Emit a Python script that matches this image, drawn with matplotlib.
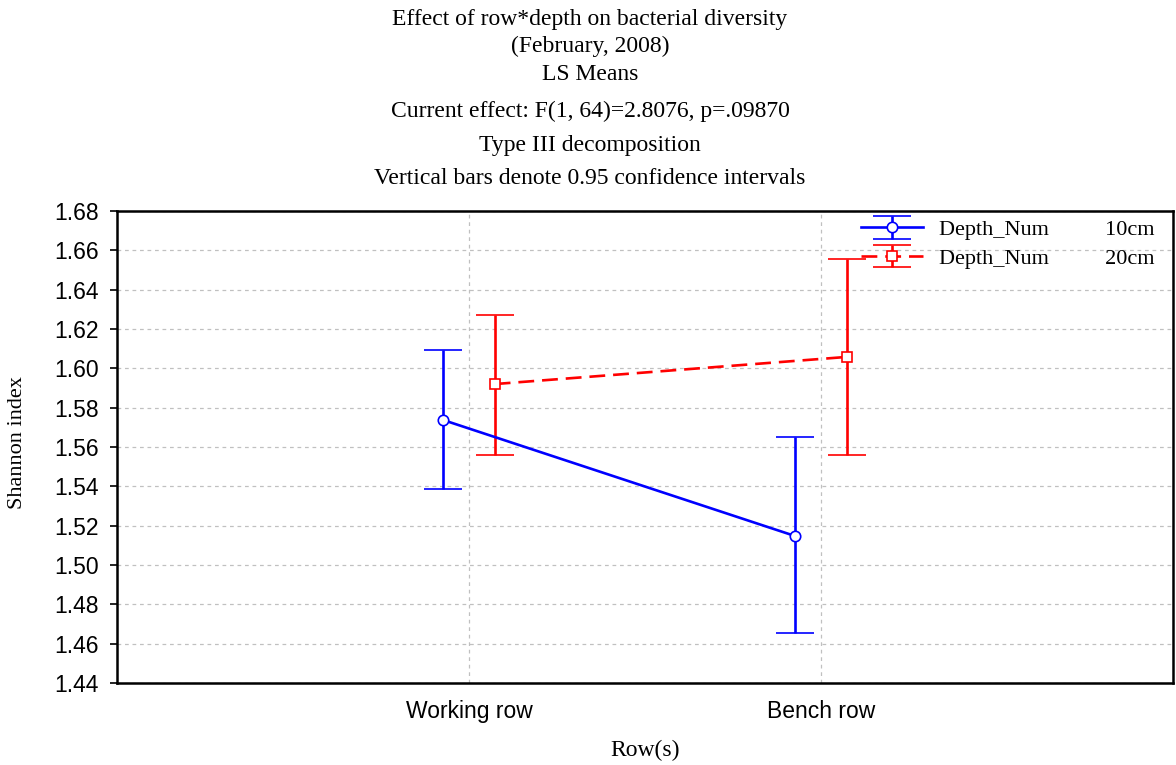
import matplotlib.pyplot as plt
import numpy as np

####################################################
# Data
####################################################
rows = ['Working row', 'Bench row']
depths = ['10cm', '20cm']

mean_10 = [1.5737, 1.5147]
lower_10 = [1.5386, 1.4654]
upper_10 = [1.6093, 1.5651]

mean_20 = [1.5920, 1.6058]
lower_20 = [1.5559, 1.5559]
upper_20 = [1.6271, 1.6556]

y_ticks = [1.44, 1.46, 1.48, 1.50, 1.52, 1.54, 1.56, 1.58, 1.60, 1.62, 1.64, 1.66, 1.68]

####################################################
# Plot
####################################################
serif = ['Liberation Serif', 'DejaVu Serif']
sans = ['Liberation Sans', 'DejaVu Sans']

fig = plt.figure(figsize=(11.76, 7.65), dpi=100)
ax = fig.add_axes([117 / 1176, 1 - 683 / 765, (1173 - 117) / 1176, (683 - 211) / 765])

x = np.arange(1, len(rows) + 1)
off = 0.073

m10 = np.array(mean_10)
m20 = np.array(mean_20)
err10 = [m10 - np.array(lower_10), np.array(upper_10) - m10]
err20 = [m20 - np.array(lower_20), np.array(upper_20) - m20]

lw = 1.9
h10 = ax.errorbar(x - off, m10, yerr=err10, color='#0000ff', linestyle='-', linewidth=lw,
                  marker='o', markersize=7.5, markerfacecolor='white', markeredgecolor='#0000ff',
                  markeredgewidth=1.2, capsize=13.5, capthick=lw, elinewidth=lw, zorder=3)
h20 = ax.errorbar(x + off, m20, yerr=err20, color='#ff0000', linestyle=(0, (6, 3)), linewidth=lw,
                  marker='s', markersize=7.5, markerfacecolor='white', markeredgecolor='#ff0000',
                  markeredgewidth=1.2, capsize=13.5, capthick=lw, elinewidth=lw, zorder=3)

ax.set_xlim(0, 3)
ax.set_ylim(1.44, 1.68)
ax.set_xticks(x)
ax.set_xticklabels(rows, fontsize=16.5, family=sans)
ax.set_yticks(y_ticks)
ax.set_yticklabels(['%.2f' % v for v in y_ticks], fontsize=16.5, family=sans)
ax.tick_params(axis='x', length=0, pad=12)
ax.tick_params(axis='y', length=5, width=1.2, direction='out', pad=8)
ax.grid(True, color='#c0c0c0', linestyle=(0, (3, 3)), linewidth=0.9)
ax.set_axisbelow(True)
for s in ax.spines.values():
    s.set_linewidth(1.8)

leg = ax.legend([h10, h20], ['Depth_Num          ' + depths[0], 'Depth_Num          ' + depths[1]],
                loc='upper right', bbox_to_anchor=(0.995, 1.01), frameon=False,
                prop={'family': serif, 'size': 16}, handlelength=2.8, labelspacing=0.35,
                borderaxespad=0.2, handletextpad=0.7)

# titles
title_lines = [
    (20, 'Effect of row*depth on bacterial diversity'),
    (46, '(February, 2008)'),
    (74, 'LS Means'),
    (111, 'Current effect: F(1, 64)=2.8076, p=.09870'),
    (145, 'Type III decomposition'),
    (179, 'Vertical bars denote 0.95 confidence intervals'),
]
for ypix, txt in title_lines:
    fig.text(590 / 1176, 1 - ypix / 765, txt, ha='center', va='center', fontsize=17, family=serif)

fig.text(18 / 1176, 1 - 443 / 765, 'Shannon index', rotation=90, ha='center', va='center',
         fontsize=16, family=serif)
fig.text(645 / 1176, 1 - 750 / 765, 'Row(s)', ha='center', va='center', fontsize=17, family=serif)

fig.savefig('out.png', dpi=100)
